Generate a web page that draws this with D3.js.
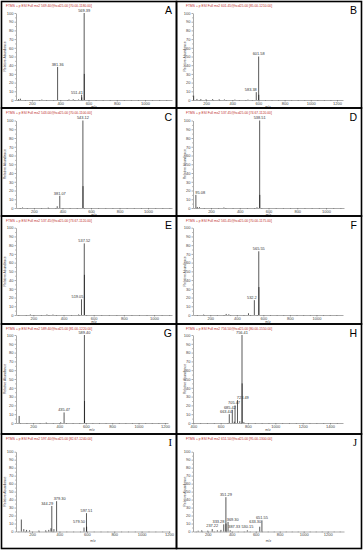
<!DOCTYPE html>
<html><head><meta charset="utf-8">
<script src="https://cdn.jsdelivr.net/npm/d3@7"></script>
<style>body{margin:0;background:#fff}svg{display:block}</style>
</head><body><svg id="c" width="363" height="550"></svg>
<script>
// ---------- DATA ----------
const letters = ["A","B","C","D","E","F","G","H","I","J"];
const titles = [
  "FTMS + p ESI Full ms2 569.40@hcd25.00 [70.00-1180.00]",
  "FTMS + p ESI Full ms2 601.45@hcd25.00 [85.00-1210.00]",
  "FTMS + p ESI Full ms2 543.00@hcd25.00 [70.00-1100.00]",
  "FTMS + p ESI Full ms2 537.45@hcd25.00 [74.67-1120.00]",
  "FTMS + p ESI Full ms2 537.45@hcd25.00 [73.67-1120.00]",
  "FTMS + p ESI Full ms2 565.45@hcd25.00 [70.00-1175.00]",
  "FTMS + p ESI Full ms2 589.40@hcd25.00 [81.00-1220.00]",
  "FTMS + p ESI Full ms2 756.50@hcd25.00 [80.00-1550.00]",
  "FTMS + p ESI Full ms2 597.40@hcd25.00 [82.67-1240.00]",
  "FTMS + p ESI Full ms2 651.50@hcd25.00 [95.00-1300.00]"
];
const xDomains = [[87,1191],[100,1246],[74,1168],[75,1125],[85,1119],[70,1200],[71,1223],[398,1495],[83,1207],[77,1336]];
const xTicks = [
  [200,400,600,800,1000],[200,400,600,800,1000,1200],[200,400,600,800,1000],
  [200,400,600,800,1000],[200,400,600,800,1000],[200,400,600,800,1000],
  [200,400,600,800,1000,1200],[400,600,800,1000,1200,1400],
  [200,400,600,800,1000,1200],[200,400,600,800,1000,1200]
];
const yTicks = [0,10,20,30,40,50,60,70,80,90,100];
const xAxisTitle = "m/z";
const yAxisTitle = "Relative Abundance";

// peaks: [m/z, relative abundance, label]
const peaksA = [[569.39,100,"569.39"],[570.40,30,""],[381.36,38,"381.36"],[551.41,6,"551.41"],
  [105,1,""],[118,1.5,""],[270,0.5,""],[462,0.6,""],[492,0.8,""],[530,0.6,""],[552.4,3,""]];
const peaksB = [[601.58,50,"601.58"],[583.38,9,"583.38"],[105,5,""],[130,1.2,""],[160,1,""],
  [200,0.8,""],[250,1,""],[300,0.8,""],[340,0.6,""],[420,0.5,""],[520,0.5,""],[602.5,6,""]];
const peaksC = [[543.12,100,"543.12"],[544.12,25,""],[381.07,14,"381.07"],[363,2,""],[120,0.6,""],[300,0.5,""]];
const peaksD = [[538.51,100,"538.51"],[539.51,15,""],[95.08,15,"95.08"],[105,1.2,""],[120,1,""],[290,0.6,""],[520,0.8,""]];
const peaksE = [[537.52,82,"537.52"],[538.52,46,""],[519.05,18,"519.05"],[180,0.6,""],[290,0.6,""],[330,0.5,""],[500,0.6,""]];
const peaksF = [[565.55,73,"565.55"],[566.55,32,""],[532.2,17,"532.2"],[320,1.2,""],[340,0.8,""],[488,2,""],[150,0.5,""]];
const peaksG = [[589.40,100,"589.40"],[590.40,25,""],[435.47,12,"435.47"],[95,8,""],[300,0.5,""],[410,0.8,""]];
const peaksH = [[756.41,100,"756.41"],[757.41,45,""],[723.49,26,"723.49"],[705.47,20,"705.47"],
  [685.42,15,"685.42"],[663.44,10,"663.44"],[700,1.5,""],[740,2,""],[770,1,""]];
const peaksI = [[379.30,38,"379.30"],[344.29,32,"344.29"],[597.51,23,"597.51"],[579.50,5,"579.50"],
  [122,15,""],[140,3,""],[160,2,""],[182,1.5,""],[250,1.2,""],[300,1.5,""],[322,2,""],[338,4,""],[360,3,""],[598.5,6,""]];
const peaksJ = [[351.29,43,"351.29"],[369.30,12,"369.30"],[333.28,9,"333.28"],[237.22,3,"237.22"],
  [387.33,1.5,"387.33"],[530.15,1.5,"530.15"],[633.30,6,"633.30"],[651.55,14,"651.55"],
  [120,1,""],[150,1.5,""],[200,1,""],[280,1.5,""],[310,2,""],[352.3,10,""]];
const peakSets = [peaksA,peaksB,peaksC,peaksD,peaksE,peaksF,peaksG,peaksH,peaksI,peaksJ];

// ---------- STYLE / LAYOUT ----------
const labelDx = {"0:551.41":-4.7,"1:583.38":-5.5,"3:95.08":4.3,"4:519.05":-4,"5:532.2":-2.5,
  "7:723.49":5.3,"7:705.47":-1,"7:685.42":-2.4,"7:663.44":-3.3,"8:344.29":-4.7,"8:379.30":3,
  "8:579.50":-5,"9:333.28":-5.3,"9:369.30":4.7,"9:387.33":4,"9:633.30":-4.5};
const labelDy = {"8:579.50":-3,"9:387.33":-0.8,"9:530.15":-0.8,"9:237.22":-1,"9:633.30":-2.2};
const colX = [[1.5,176.5],[176.5,361.5]];
const rowY = [[1.5,108],[108,216],[216,324],[324,434],[434,548.5]];
const plotTop = [13,120.5,227.7,335,451.7];
const plotBase = [100,208,315,423,531.5];
const axisX = [16,193];
const xEnd = [172,343,172,344,172,343,168,343,170,344];
const yTitleX = [6,186];
const titleX = [6,186];
const FONT = "'Liberation Sans', Arial, sans-serif";
const AX = "#555";

const svg = d3.select("#c");
svg.append("rect").attr("width",363).attr("height",550).attr("fill","#fff");

letters.forEach((L,i)=>{
  const r = Math.floor(i/2), c = i%2;
  const g = svg.append("g");
  const x = d3.scaleLinear().domain(xDomains[i]).range([axisX[c], xEnd[i]]);
  const y = d3.scaleLinear().domain([0,100]).range([plotBase[r], plotTop[r]]);

  // title
  g.append("text").attr("x",titleX[c]).attr("y",rowY[r][0]+5.8)
    .attr("font-family",FONT).attr("font-size",3.3).attr("fill","#c0302a").text(titles[i]);
  // letter
  g.append("text").attr("x",colX[c][1]-4.5).attr("y",rowY[r][0]+(r===4?11.5:12.8))
    .attr("text-anchor","end")
    .attr("font-family", r===4 ? "'Liberation Serif','Times New Roman',serif" : FONT)
    .attr("font-size",10.5).attr("fill","#000").text(L);

  // y axis
  const ya = g.append("g").attr("transform",`translate(${axisX[c]},0)`)
    .call(d3.axisLeft(y).tickValues(yTicks).tickFormat(d3.format("d")).tickSize(1.5).tickSizeOuter(0).tickPadding(1));
  const yaMinor = g.append("g").attr("transform",`translate(${axisX[c]},0)`)
    .call(d3.axisLeft(y).tickValues(d3.range(5,100,10)).tickSize(0.8).tickFormat(""));
  yaMinor.select(".domain").remove();
  // x axis
  const xa = g.append("g").attr("transform",`translate(0,${plotBase[r]})`)
    .call(d3.axisBottom(x).tickValues(xTicks[i]).tickFormat(d3.format("d")).tickSize(1.5).tickSizeOuter(0).tickPadding(0.6));
  const minor = d3.range(Math.ceil(xDomains[i][0]/50)*50, xDomains[i][1], 50).filter(v=>v%200!==0);
  const xaMinor = g.append("g").attr("transform",`translate(0,${plotBase[r]})`)
    .call(d3.axisBottom(x).tickValues(minor).tickSize(0.8).tickFormat(""));
  xaMinor.select(".domain").remove();
  [ya,yaMinor,xa,xaMinor].forEach(a=>{
    a.selectAll("path,line").attr("stroke",AX).attr("stroke-width",0.5);
    a.selectAll("text").attr("font-family",FONT).attr("font-size",4).attr("fill","#444");
  });

  // axis titles
  g.append("text").attr("x",(axisX[c]+xEnd[i])/2).attr("y",plotBase[r]+(r===4?10:8.3))
    .attr("text-anchor","middle").attr("font-family",FONT).attr("font-size",3.4).attr("fill","#444").text(xAxisTitle);
  const yc = (plotTop[r]+plotBase[r])/2;
  g.append("text").attr("transform",`translate(${yTitleX[c]},${yc}) rotate(-90)`)
    .attr("text-anchor","middle").attr("font-family",FONT).attr("font-size",3.4).attr("fill","#444").text(yAxisTitle);

  // peaks
  const pk = peakSets[i];
  g.selectAll("line.pk").data(pk).enter().append("line").attr("class","pk")
    .attr("x1",d=>x(d[0])).attr("x2",d=>x(d[0]))
    .attr("y1",y(0)).attr("y2",d=>y(d[1]))
    .attr("stroke","#111").attr("stroke-width",0.7);
  g.selectAll("text.pl").data(pk.filter(d=>d[2])).enter().append("text").attr("class","pl")
    .attr("x",d=>x(d[0])+(labelDx[i+":"+d[2]]||0))
    .attr("y",d=>y(d[1])-1.2+(labelDy[i+":"+d[2]]||0))
    .attr("text-anchor","middle").attr("font-family",FONT).attr("font-size",3.9).attr("fill","#333")
    .text(d=>d[2]);

  // panel border
  g.append("rect").attr("x",colX[c][0]).attr("y",rowY[r][0])
    .attr("width",colX[c][1]-colX[c][0]).attr("height",rowY[r][1]-rowY[r][0])
    .attr("fill","none").attr("stroke","#000").attr("stroke-width",1.6);
});
</script></body></html>
